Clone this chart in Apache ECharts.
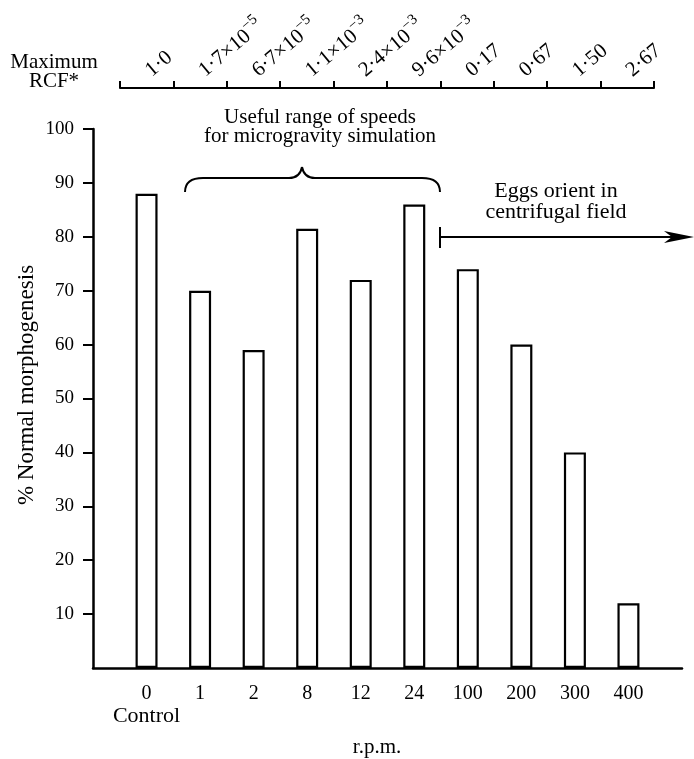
<!DOCTYPE html>
<html><head><meta charset="utf-8">
<script src="https://cdn.jsdelivr.net/npm/echarts@6/dist/echarts.min.js"></script>
<style>html,body{margin:0;padding:0;background:#fff}#c{width:694px;height:759px}</style>
</head><body><div id="c"></div>
<script>
// ---- data ----
const rpmLabels = ['0', '1', '2', '8', '12', '24', '100', '200', '300', '400'];
const rpmSubLabels = ['Control', '', '', '', '', '', '', '', '', ''];
const normalMorphogenesis = [88, 70, 59, 81.5, 72, 86, 74, 60, 40, 12];
const rcfMantissa = ['1·0', '1·7×10', '6·7×10', '1·1×10', '2·4×10', '9·6×10', '0·17', '0·67', '1·50', '2·67'];
const rcfExponent = ['', '−5', '−5', '−3', '−3', '−3', '', '', '', ''];
const yTickValues = [10, 20, 30, 40, 50, 60, 70, 80, 90, 100];
const yMin = 0, yMax = 100;

// padded category list so the bars sit inset from the axis ends
const xCats = [''].concat(rpmLabels, ['']);
const xSubs = [''].concat(rpmSubLabels, ['']);
const barData = ['-'].concat(normalMorphogenesis, ['-']);

const FONT = '"Liberation Serif", "DejaVu Serif", serif';
const chart = echarts.init(document.getElementById('c'), null, {renderer: 'canvas'});

function txt(x, y, text, size, lh, rot) {
  return {type: 'text', x: x, y: y, rotation: rot || 0,
    style: {text: text, font: size + 'px ' + FONT, fill: '#000', align: 'center', verticalAlign: 'middle', lineHeight: lh || size}};
}
const S = {stroke: '#000', lineWidth: 2, fill: null};

chart.setOption({
  animation: false,
  backgroundColor: '#fff',
  grid: [
    {left: 93, right: 12, top: 129, bottom: 91},
    {left: 120, right: 40, top: 87, height: 1}
  ],
  xAxis: [
    {
      gridIndex: 0, type: 'category', data: xCats, boundaryGap: false,
      axisLine: {lineStyle: {color: '#000', width: 2.5}},
      axisTick: {show: false},
      axisLabel: {interval: 0, color: '#000', margin: 14,
        formatter: function (v, i) { return xSubs[i] ? '{n|' + v + '}\n{c|' + xSubs[i] + '}' : '{n|' + v + '}'; },
        rich: {
          n: {fontFamily: FONT, fontSize: 20, color: '#000', lineHeight: 23},
          c: {fontFamily: FONT, fontSize: 22, color: '#000', lineHeight: 23}
        }},
      splitLine: {show: false}
    },
    {
      gridIndex: 1, type: 'category', position: 'top', data: rcfMantissa, boundaryGap: true,
      axisLine: {lineStyle: {color: '#000', width: 2}},
      axisTick: {show: true, inside: false, length: 7, lineStyle: {color: '#000', width: 2}},
      axisLabel: {
        interval: 0, rotate: 40, margin: 16, color: '#000', fontFamily: FONT, fontSize: 21,
        formatter: function (v, i) {
          return rcfExponent[i] ? '{m|' + rcfMantissa[i] + '}{s|' + rcfExponent[i] + '}' : '{m|' + rcfMantissa[i] + '}';
        },
        rich: {
          m: {fontFamily: FONT, fontSize: 21, color: '#000', lineHeight: 26, verticalAlign: 'bottom'},
          s: {fontFamily: FONT, fontSize: 15, color: '#000', lineHeight: 26, verticalAlign: 'top'}
        }
      },
      splitLine: {show: false}
    }
  ],
  yAxis: [
    {
      gridIndex: 0, type: 'value', min: yMin, max: yMax,
      axisLine: {show: true, lineStyle: {color: '#000', width: 2.5}},
      axisTick: {show: true, inside: false, length: 10, customValues: yTickValues, lineStyle: {color: '#000', width: 2}},
      axisLabel: {color: '#000', fontFamily: FONT, fontSize: 19, margin: 19, customValues: yTickValues},
      splitLine: {show: false}
    },
    {gridIndex: 1, type: 'value', show: false}
  ],
  series: [{
    type: 'bar', xAxisIndex: 0, yAxisIndex: 0, data: barData, barWidth: 22,
    itemStyle: {color: '#fff', borderColor: '#000', borderWidth: 2.2},
    silent: true
  }],
  graphic: [
    txt(54, 72, 'Maximum\nRCF*', 21, 19),
    txt(320, 127, 'Useful range of speeds\nfor microgravity simulation', 21, 19),
    // brace
    {type: 'bezierCurve', shape: {x1: 185, y1: 192, cpx1: 185, cpy1: 178, x2: 203, y2: 178}, style: S},
    {type: 'line', shape: {x1: 203, y1: 178, x2: 289, y2: 178}, style: S},
    {type: 'bezierCurve', shape: {x1: 289, y1: 178, cpx1: 300, cpy1: 178, x2: 302, y2: 167}, style: S},
    {type: 'bezierCurve', shape: {x1: 302, y1: 167, cpx1: 304, cpy1: 178, x2: 315, y2: 178}, style: S},
    {type: 'line', shape: {x1: 315, y1: 178, x2: 422, y2: 178}, style: S},
    {type: 'bezierCurve', shape: {x1: 422, y1: 178, cpx1: 440, cpy1: 178, x2: 440, y2: 192}, style: S},
    // arrow
    txt(556, 202, 'Eggs orient in\ncentrifugal field', 22, 21),
    {type: 'line', shape: {x1: 440, y1: 227, x2: 440, y2: 248}, style: S},
    {type: 'line', shape: {x1: 440, y1: 237, x2: 675, y2: 237}, style: S},
    {type: 'polygon', shape: {points: [[694, 237], [664, 231], [672, 237], [664, 243]]}, style: {fill: '#000'}},
    txt(27, 385, '% Normal morphogenesis', 23, 23, Math.PI / 2),
    txt(377, 747, 'r.p.m.', 21, 21)
  ]
});
</script></body></html>
